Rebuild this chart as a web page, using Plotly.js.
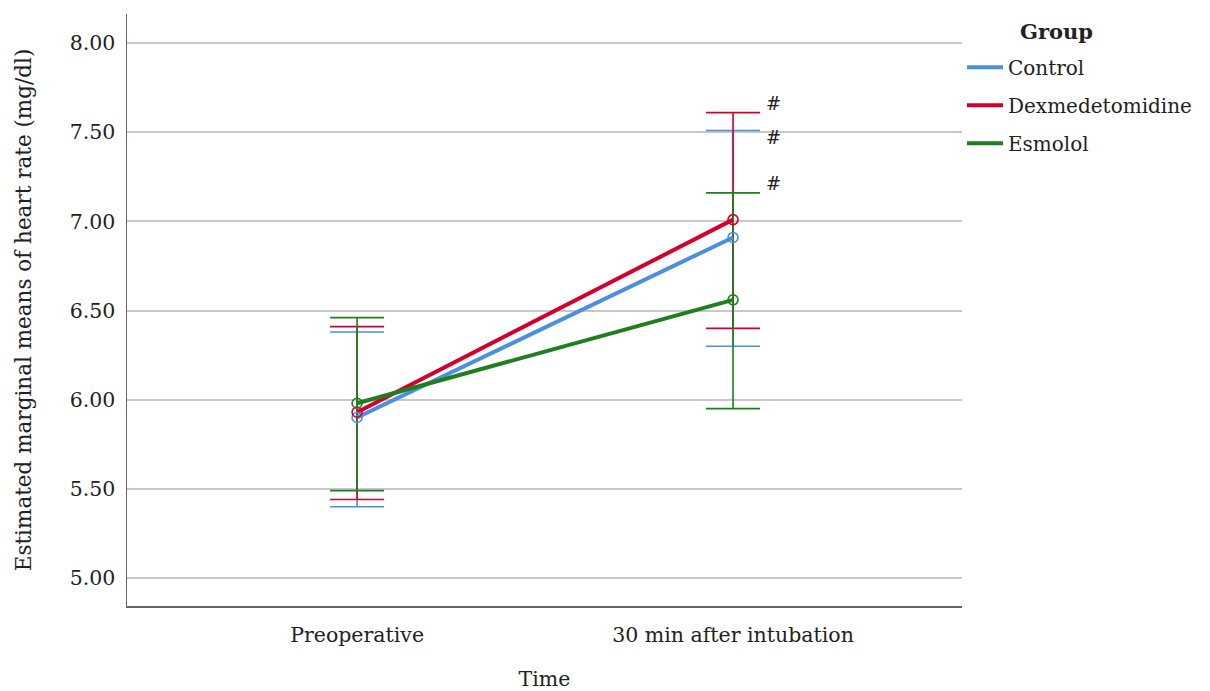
<!DOCTYPE html>
<html><head><meta charset="utf-8">
<script src="https://cdn.plot.ly/plotly-3.0.1.min.js"></script>
<style>body{margin:0;background:#fff}</style>
</head><body><div id="chart" style="width:1210px;height:691px"></div>
<script>
const timepoints = ["Preoperative", "30 min after intubation"];
const groups = ["Control", "Dexmedetomidine", "Esmolol"];
const colors = ["#4a8fe0", "#d4002b", "#1f7f1f"];
const controlMean = [5.90, 6.91];
const controlUpper = [6.38, 7.51];
const controlLower = [5.40, 6.30];
const dexMean = [5.93, 7.01];
const dexUpper = [6.41, 7.61];
const dexLower = [5.44, 6.40];
const esmMean = [5.98, 6.56];
const esmUpper = [6.46, 7.16];
const esmLower = [5.49, 5.95];
const significance = ["", "#"];
const legendTitle = "Group";

const means = [controlMean, dexMean, esmMean];
const uppers = [controlUpper, dexUpper, esmUpper];
const lowers = [controlLower, dexLower, esmLower];
const markYShift = [-7, 9, 9];

const font = "DejaVu Serif, Liberation Serif, serif";
const traces = [];
groups.forEach((g, i) => {
  traces.push({
    x: timepoints, y: means[i], type: "scatter", mode: "markers",
    marker: {size: 1, opacity: 0}, showlegend: false, hoverinfo: "skip",
    error_y: {type: "data", symmetric: false,
      array: uppers[i].map((u, k) => u - means[i][k]),
      arrayminus: lowers[i].map((l, k) => means[i][k] - l),
      color: colors[i], thickness: 1.6, width: 27}
  });
});
groups.forEach((g, i) => {
  traces.push({
    x: timepoints, y: means[i], type: "scatter", mode: "lines", name: g,
    legendgroup: g,
    line: {color: colors[i], width: 4}
  });
});
groups.forEach((g, i) => {
  traces.push({
    x: timepoints, y: means[i], type: "scatter", mode: "markers", showlegend: false,
    marker: {symbol: "circle-open", size: 10, color: colors[i], line: {width: 1.6, color: colors[i]}}
  });
});

const annotations = [];
groups.forEach((g, i) => {
  timepoints.forEach((t, k) => {
    if (significance[k]) {
      annotations.push({x: t, y: uppers[i][k], text: significance[k], showarrow: false,
        xshift: 40, yshift: markYShift[i], font: {family: font, size: 18, color: "#222"}});
    }
  });
});
annotations.push({xref: "paper", yref: "paper", x: 1.1126, y: 0.971, xanchor: "center", yanchor: "middle",
  text: "<b>" + legendTitle + "</b>", showarrow: false, font: {family: font, size: 21, color: "#222"}});

const layout = {
  width: 1210, height: 691,
  margin: {l: 127, r: 248, t: 14, b: 85},
  paper_bgcolor: "#fff", plot_bgcolor: "#fff",
  font: {family: font, size: 20, color: "#222"},
  xaxis: {
    type: "category", range: [-0.612, 1.609],
    showgrid: false, zeroline: false,
    showline: true, linecolor: "#666", linewidth: 1.5,
    ticks: "", ticklabelstandoff: 10,
    tickfont: {family: font, size: 20.5, color: "#222"},
    title: {text: "Time", font: {family: font, size: 20.5, color: "#222"}, standoff: 46}
  },
  yaxis: {
    range: [4.843, 8.163], tick0: 5, dtick: 0.5, tickformat: ".2f",
    showgrid: true, gridcolor: "#c8c8c8", gridwidth: 2, zeroline: false,
    showline: true, linecolor: "#666", linewidth: 1.5,
    ticks: "", ticklabelstandoff: 6,
    tickfont: {family: font, size: 20.5, color: "#222"},
    title: {text: "Estimated marginal means of heart rate (mg/dl)", font: {family: font, size: 21.5, color: "#222"}, standoff: 32}
  },
  legend: {
    x: 1.0, xanchor: "left", y: 0.943, yanchor: "top",
    font: {family: font, size: 20, color: "#222"},
    traceorder: "grouped", tracegroupgap: 9, itemwidth: 36
  },
  annotations: annotations,
  showlegend: true
};
Plotly.newPlot("chart", traces, layout, {displayModeBar: false, staticPlot: true});
</script>
</body></html>
